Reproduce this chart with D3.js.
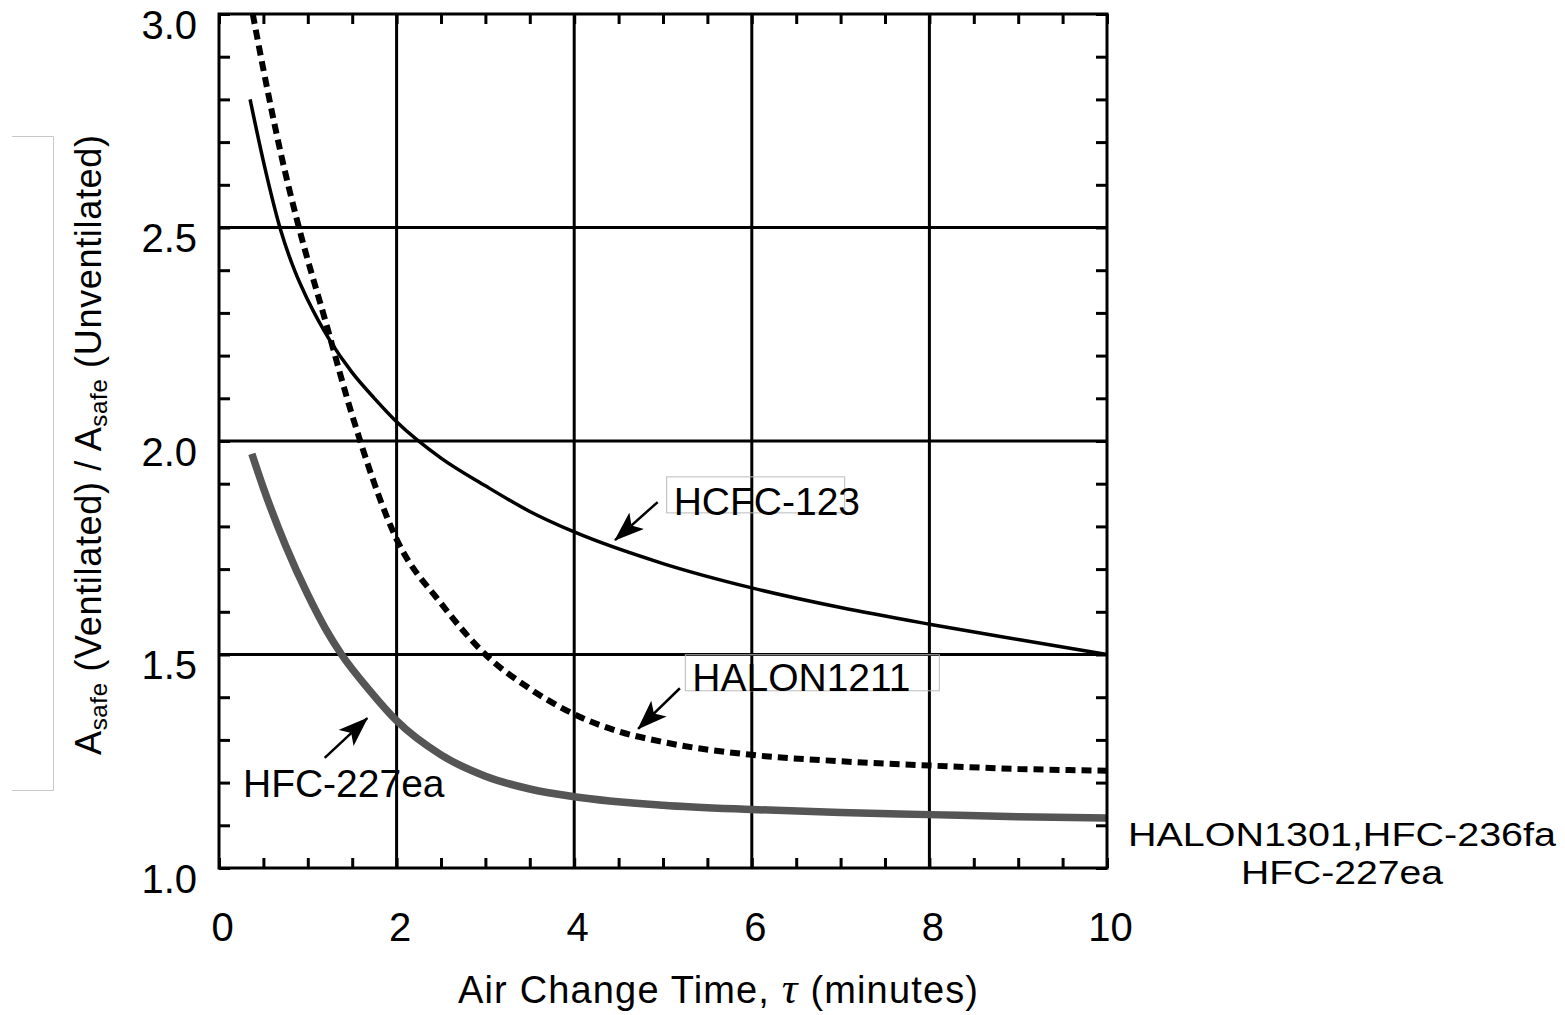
<!DOCTYPE html>
<html>
<head>
<meta charset="utf-8">
<script src="https://cdn.jsdelivr.net/npm/d3@7"></script>
<style>
  body { margin: 0; background: #fff; }
  svg text { font-family: "Liberation Sans", Arial, sans-serif; fill: #000; }
</style>
</head>
<body>
<div id="chart"></div>
<script>
// values
const hcfcX = [0.35, 0.5, 0.7, 0.85, 1.0, 1.25, 1.5, 1.75, 2, 2.5, 3, 3.5, 4, 5, 6, 7, 8, 9, 10];
const hcfcY = [2.80, 2.655, 2.49, 2.40, 2.33, 2.235, 2.16, 2.10, 2.045, 1.96, 1.895, 1.835, 1.787, 1.713, 1.656, 1.61, 1.571, 1.535, 1.50];

const halonX = [0.38, 0.5, 0.7, 0.9, 1.2, 1.5, 2, 2.5, 3, 3.5, 4, 4.5, 5, 6, 7, 8, 9, 10];
const halonY = [3.0, 2.87, 2.67, 2.50, 2.28, 2.06, 1.77, 1.62, 1.50, 1.42, 1.36, 1.32, 1.295, 1.265, 1.25, 1.24, 1.232, 1.228];

const hfcX = [0.37, 0.5, 0.75, 1.0, 1.2, 1.38, 1.7, 2, 2.5, 3, 3.5, 4, 5, 6, 7, 8, 9, 10];
const hfcY = [1.97, 1.89, 1.755, 1.64, 1.56, 1.50, 1.415, 1.345, 1.265, 1.215, 1.185, 1.167, 1.147, 1.137, 1.13, 1.125, 1.12, 1.117];

const xTicks = [0, 2, 4, 6, 8, 10];
const yTicks = [1.0, 1.5, 2.0, 2.5, 3.0];

// arrows: [tailX, tailY, tipX, tipY] in data units
const arrows = [
    [4.94, 1.857, 4.46, 1.768],
    [5.19, 1.421, 4.72, 1.326],
    [1.19, 1.258, 1.67, 1.351]
];

const width = 1565, height = 1015;
const margin = { top: 14, right: 458, bottom: 147, left: 219 };
const w = width - margin.left - margin.right;
const h = height - margin.top - margin.bottom;

const svg = d3.select("#chart").append("svg")
    .attr("width", width)
    .attr("height", height);

// faint bracket on the far left
svg.append("path")
    .attr("d", "M12,136.5H53.5V790.5H12")
    .attr("fill", "none")
    .attr("stroke", "#c8c8c8")
    .attr("stroke-width", 1);

const g = svg.append("g").attr("transform", `translate(${margin.left},${margin.top})`);

const x = d3.scaleLinear().domain([0, 10]).range([0, w]);
const y = d3.scaleLinear().domain([1, 3]).range([h, 0]);

// grid at the major ticks
g.append("g").selectAll("line")
    .data(xTicks.slice(1, -1))
    .join("line")
    .attr("x1", d => x(d)).attr("x2", d => x(d))
    .attr("y1", 0).attr("y2", h)
    .attr("stroke", "#000").attr("stroke-width", 3);
g.append("g").selectAll("line")
    .data(yTicks.slice(1, -1))
    .join("line")
    .attr("x1", 0).attr("x2", w)
    .attr("y1", d => y(d)).attr("y2", d => y(d))
    .attr("stroke", "#000").attr("stroke-width", 3);

// minor ticks pointing inward on all four sides
const xMinor = d3.range(0, 10.01, 0.5);
const yMinor = d3.range(1, 3.001, 0.1);
function tickStyle(sel) {
    sel.select(".domain").remove();
    sel.selectAll("line").attr("stroke", "#000").attr("stroke-width", 3);
    sel.selectAll("text").remove();
}
g.append("g").attr("transform", `translate(0,${h})`)
    .call(d3.axisBottom(x).tickValues(xMinor).tickSize(-10)).call(tickStyle);
g.append("g")
    .call(d3.axisTop(x).tickValues(xMinor).tickSize(-10)).call(tickStyle);
g.append("g")
    .call(d3.axisLeft(y).tickValues(yMinor).tickSize(-11)).call(tickStyle);
g.append("g").attr("transform", `translate(${w},0)`)
    .call(d3.axisRight(y).tickValues(yMinor).tickSize(-11)).call(tickStyle);

// tick labels
const xAx = g.append("g").attr("transform", `translate(0,${h})`)
    .call(d3.axisBottom(x).tickValues(xTicks).tickSize(0).tickPadding(45).tickFormat(d3.format("d")));
xAx.select(".domain").remove();
xAx.selectAll("text").attr("font-size", 40).attr("dx", 3)
    .style("font-family", "'Liberation Sans', Arial, sans-serif");

const yAx = g.append("g")
    .call(d3.axisLeft(y).tickValues(yTicks).tickSize(0).tickPadding(22).tickFormat(d3.format(".1f")));
yAx.select(".domain").remove();
yAx.selectAll("text").attr("font-size", 40).attr("dy", "0.6em")
    .style("font-family", "'Liberation Sans', Arial, sans-serif");

// curves
const line = d3.line()
    .x(d => x(d[0]))
    .y(d => y(d[1]))
    .curve(d3.curveMonotoneX);

g.append("path")
    .datum(hfcX.map((v, i) => [v, hfcY[i]]))
    .attr("d", line)
    .attr("fill", "none")
    .attr("stroke", "#555")
    .attr("stroke-width", 7.5);

g.append("path")
    .datum(halonX.map((v, i) => [v, halonY[i]]))
    .attr("d", line)
    .attr("fill", "none")
    .attr("stroke", "#000")
    .attr("stroke-width", 6)
    .attr("stroke-dasharray", "10,6");

g.append("path")
    .datum(hcfcX.map((v, i) => [v, hcfcY[i]]))
    .attr("d", line)
    .attr("fill", "none")
    .attr("stroke", "#000")
    .attr("stroke-width", 3.5);

// frame
g.append("rect")
    .attr("width", w).attr("height", h)
    .attr("fill", "none")
    .attr("stroke", "#000")
    .attr("stroke-width", 3);

// arrows
svg.append("defs").append("marker")
    .attr("id", "head")
    .attr("viewBox", "0 0 30 22")
    .attr("refX", 29).attr("refY", 11)
    .attr("markerWidth", 30).attr("markerHeight", 22)
    .attr("markerUnits", "userSpaceOnUse")
    .attr("orient", "auto")
    .append("path")
    .attr("d", "M0,0 L30,11 L0,22 L7,11 Z")
    .attr("fill", "#000");

g.append("g").selectAll("line")
    .data(arrows)
    .join("line")
    .attr("x1", d => x(d[0])).attr("y1", d => y(d[1]))
    .attr("x2", d => x(d[2])).attr("y2", d => y(d[3]))
    .attr("stroke", "#000").attr("stroke-width", 2.5)
    .attr("marker-end", "url(#head)");

// labels with their faint boxes
g.append("rect")
    .attr("x", x(5.12) - 7).attr("y", y(1.827) - 38)
    .attr("width", 178).attr("height", 36)
    .attr("fill", "none").attr("stroke", "#bbb").attr("stroke-width", 1);
g.append("text")
    .attr("x", x(5.12)).attr("y", y(1.827))
    .attr("font-size", 39)
    .text("HCFC-123");

g.append("rect")
    .attr("x", x(5.33) - 7).attr("y", y(1.415) - 36)
    .attr("width", 254).attr("height", 36)
    .attr("fill", "none").attr("stroke", "#bbb").attr("stroke-width", 1);
g.append("text")
    .attr("x", x(5.33)).attr("y", y(1.415))
    .attr("font-size", 39)
    .text("HALON1211");

g.append("text")
    .attr("x", x(0.27)).attr("y", y(1.167))
    .attr("font-size", 39)
    .text("HFC-227ea");

// two-line label right of the frame, stretched sideways like the original
g.append("text")
    .attr("text-anchor", "middle")
    .attr("font-size", 34)
    .attr("x", w + 235).attr("y", y(1.052))
    .attr("textLength", 428).attr("lengthAdjust", "spacingAndGlyphs")
    .text("HALON1301,HFC-236fa");
g.append("text")
    .attr("text-anchor", "middle")
    .attr("font-size", 34)
    .attr("x", w + 235).attr("y", y(0.963))
    .attr("textLength", 202).attr("lengthAdjust", "spacingAndGlyphs")
    .text("HFC-227ea");

// axis titles
const xTitle = svg.append("text")
    .attr("x", 458).attr("y", 1003)
    .attr("font-size", 38)
    .attr("textLength", 520)
    .attr("lengthAdjust", "spacing");
xTitle.append("tspan").text("Air Change Time, ");
xTitle.append("tspan")
    .style("font-family", "'Liberation Serif', 'DejaVu Serif', serif")
    .style("font-style", "italic")
    .attr("font-size", 44)
    .text("τ");
xTitle.append("tspan").text(" (minutes)");

const yTitle = svg.append("text")
    .attr("transform", "translate(101,755) rotate(-90)")
    .attr("font-size", 36)
    .attr("textLength", 620)
    .attr("lengthAdjust", "spacing");
yTitle.append("tspan").text("A");
yTitle.append("tspan").attr("font-size", 24).attr("dy", 6).text("safe");
yTitle.append("tspan").attr("dy", -6).text(" (Ventilated) / A");
yTitle.append("tspan").attr("font-size", 24).attr("dy", 6).text("safe");
yTitle.append("tspan").attr("dy", -6).text(" (Unventilated)");
</script>
</body>
</html>
